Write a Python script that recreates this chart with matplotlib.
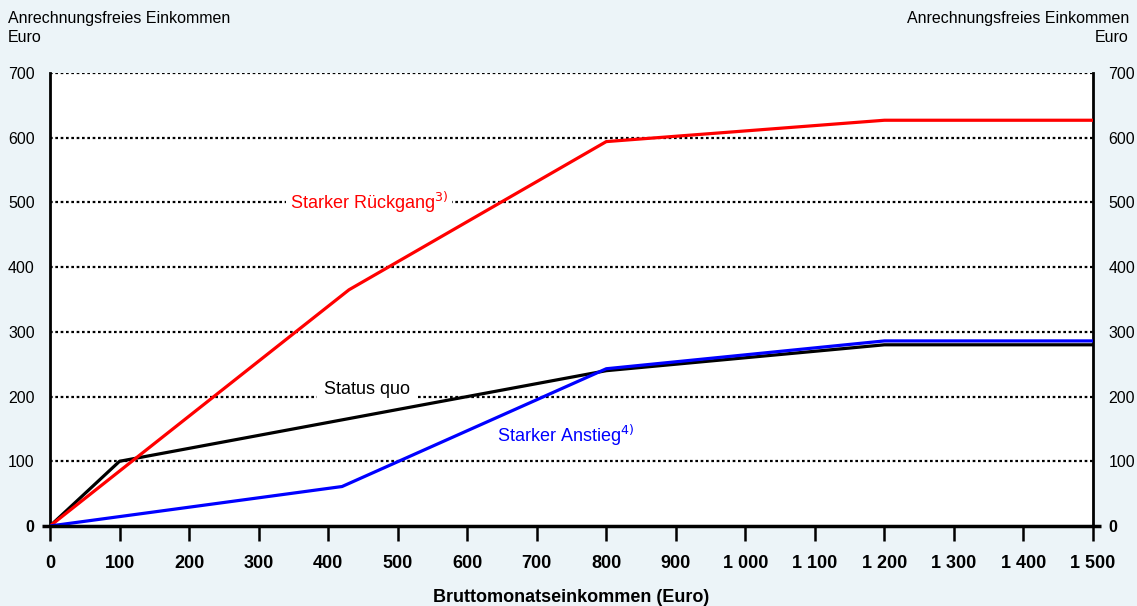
import matplotlib
matplotlib.use("Agg")
import matplotlib.pyplot as plt

plt.rcParams['font.family'] = ['Liberation Sans', 'DejaVu Sans']

status_x = [0, 100, 800, 1200, 1500]
status_y = [0, 100, 240, 280, 280]
rueck_x = [0, 430, 800, 1200, 1500]
rueck_y = [0, 365, 594, 627, 627]
anstieg_x = [0, 420, 800, 1200, 1500]
anstieg_y = [0, 61, 243, 286, 286]

xticks = list(range(0, 1501, 100))
xticklabels = ['0', '100', '200', '300', '400', '500', '600', '700', '800', '900',
               '1 000', '1 100', '1 200', '1 300', '1 400', '1 500']
yticks = list(range(0, 701, 100))
yticklabels = ['0', '100', '200', '300', '400', '500', '600', '700']

bg = '#ecf4f8'
fig = plt.figure(figsize=(11.37, 6.06), dpi=100, facecolor=bg)
ax = fig.add_axes([50/1137, 1-526/606, 1043/1137, 453/606])
ax.set_facecolor('white')
ax.set_xlim(0, 1500)
ax.set_ylim(0, 700)

for v in yticks[1:]:
    ax.axhline(v, color='black', lw=1.6, linestyle=(0, (1.2, 1.2)), zorder=1)

ax.plot(status_x, status_y, color='black', lw=2.3, zorder=3)
ax.plot(rueck_x, rueck_y, color='#ff0000', lw=2.3, zorder=3)
ax.plot(anstieg_x, anstieg_y, color='#0000ff', lw=2.3, zorder=3)

for s in ['top', 'bottom']:
    ax.spines[s].set_visible(False)
for s in ['left', 'right']:
    ax.spines[s].set_linewidth(2)
    ax.spines[s].set_color('black')
ax.plot([-0.008, 1.008], [0, 0], transform=ax.transAxes, color='black', lw=2.5,
        clip_on=False, zorder=5, solid_capstyle='butt')

ax.set_xticks(xticks)
ax.set_xticklabels(xticklabels, fontsize=13, fontweight='bold')
ax.tick_params(axis='x', direction='out', length=11, width=1.8, pad=10, colors='black')
ax.set_yticks(yticks)
ax.set_yticklabels(yticklabels, fontsize=11.5)
ax.tick_params(axis='y', length=0, pad=11, labelleft=True, labelright=True)
for t in ax.yaxis.get_major_ticks():
    t.label2.set_fontsize(11.5)
ax.yaxis.get_major_ticks()[0].label2.set_fontweight('bold')
ax.yaxis.get_major_ticks()[0].label1.set_fontweight('bold')

ax.set_xlabel('Bruttomonatseinkommen (Euro)', fontsize=13, fontweight='bold', labelpad=12)

bbox = dict(facecolor='white', edgecolor='none', pad=3)
ax.text((290-50)/1043*1500, 500, 'Starker Rückgang$^{3)}$', color='#ff0000',
        fontsize=13, va='center', ha='left', bbox=bbox, zorder=2)
ax.text((324-50)/1043*1500, 211, 'Status quo', color='black', fontsize=13,
        va='center', ha='left', bbox=dict(facecolor='white', edgecolor='none', pad=5), zorder=2)
ax.text((497-50)/1043*1500, 140, 'Starker Anstieg$^{4)}$', color='#0000ff', fontsize=13,
        va='center', ha='left', zorder=2)

fig.text(8/1137, 1-11/606, 'Anrechnungsfreies Einkommen\nEuro', fontsize=11.5,
         ha='left', va='top', linespacing=1.35)
fig.text(1129/1137, 1-11/606, 'Anrechnungsfreies Einkommen\nEuro', fontsize=11.5,
         ha='right', va='top', linespacing=1.35, multialignment='right')

fig.savefig('out.png', dpi=100, facecolor=bg)
